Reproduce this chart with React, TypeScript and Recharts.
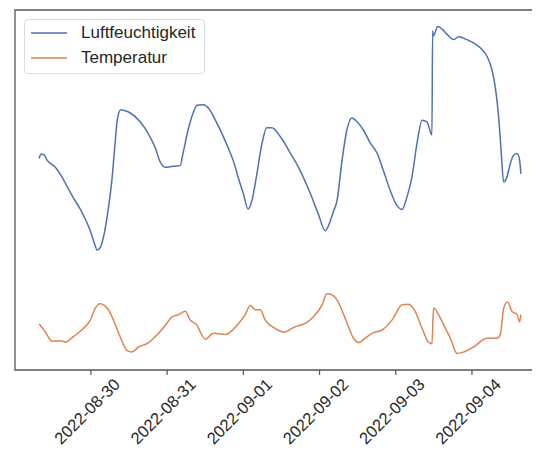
import React from "react";
import { LineChart, Line, XAxis, YAxis, Legend, ReferenceArea } from "recharts";

// hours since 2022-08-30 00:00
const humidityHours = [
  -16.3, -15.7, -14.7, -13.8, -11.2, -8.6, -7.6, -5.6, -3.4, -1.8, -0.2, 1.4, 1.9, 2.9, 3.9, 5.4,
  6.6, 7.7, 8.3, 9.4, 10.8, 12.4, 15.5, 18.0, 20.3, 21.8, 23.4, 25.9, 28.1, 29.1, 30.6, 32.2,
  33.4, 35.4, 37.0, 39.2, 41.7, 43.9, 45.4, 46.0, 48.0, 49.5, 50.7, 52.3, 53.9, 55.4, 57.0, 59.6,
  62.8, 65.9, 69.1, 71.6, 73.8, 75.4, 76.3, 77.5, 79.1, 80.6, 82.2, 83.8, 85.8, 88.0, 90.1, 92.1,
  94.3, 96.4, 98.0, 99.5, 101.1, 102.7, 104.3, 105.8, 107.4, 107.6, 107.9, 109.2, 110.6, 112.1,
  114.2, 115.8, 118.4, 120.5, 122.6, 124.7, 126.3, 127.3, 128.4, 129.1, 130.0, 131.0, 132.1,
  133.1, 134.2, 135.0, 135.4,
];
const humidityValues = [
  52.9, 53.7, 53.5, 52.6, 51.3, 49.0, 47.9, 45.8, 43.7, 41.9, 39.7, 36.9, 36.2, 36.6, 38.4, 43.4,
  48.9, 56.2, 59.9, 61.8, 61.6, 61.2, 59.6, 57.5, 54.8, 52.3, 51.3, 51.5, 51.6, 54.1, 58.1, 61.2,
  62.6, 62.7, 62.1, 59.9, 56.9, 53.9, 51.5, 50.2, 46.5, 43.7, 45.2, 50.2, 55.7, 58.5, 58.5, 56.9,
  53.9, 50.7, 46.5, 42.8, 39.7, 41.5, 43.1, 45.2, 52.6, 58.1, 60.3, 59.6, 58.1, 55.7, 53.9, 50.7,
  47.0, 44.3, 43.6, 45.8, 49.5, 55.7, 59.9, 59.6, 57.2, 76.2, 75.3, 77.0, 76.5, 75.6,
  74.6, 75.1, 74.6, 74.0, 73.1, 71.6, 69.1, 66.1, 60.5, 55.0, 48.6, 49.5, 52.0,
  53.5, 53.8, 52.6, 50.1,
];

const tempHours = [
  -16.3, -14.4, -12.3, -9.1, -8.1, -5.5, -2.3, -0.2, 1.4, 2.9, 5.5, 7.1, 9.2, 11.3, 12.9, 15.0,
  17.6, 20.8, 23.9, 25.5, 27.6, 29.7, 31.3, 33.4, 34.4, 36.0, 38.6, 42.3, 46.5, 48.6, 50.2, 51.7,
  53.3, 54.9, 58.0, 60.7, 64.3, 67.5, 70.1, 72.8, 74.3, 75.9, 77.5, 80.1, 82.7, 84.3, 86.4, 88.5,
  91.7, 94.8, 98.0, 100.0, 102.1, 104.3, 106.3, 107.4, 107.9, 109.5, 111.1, 113.2, 115.3, 117.4,
  120.5, 124.7, 127.9, 128.9, 130.0, 131.2, 132.6, 134.2, 135.0, 135.4,
];
const tempValues = [
  22.7, 21.3, 19.6, 19.6, 19.4, 20.4, 21.9, 23.4, 25.6, 26.4, 25.3, 23.4, 20.4, 17.9, 17.6, 18.5,
  19.1, 20.7, 22.8, 24.0, 24.4, 25.0, 23.4, 22.5, 21.3, 19.9, 21.0, 20.8, 22.8, 24.4, 26.1, 25.3,
  25.3, 23.4, 21.9, 21.2, 22.2, 22.8, 24.0, 26.2, 28.2, 28.0, 27.1, 23.7, 20.1, 19.3, 20.1, 21.0,
  21.6, 23.4, 26.2, 26.3, 25.0, 21.9, 19.4, 19.1, 25.6, 24.4, 22.5, 20.1, 17.3, 17.6,
  18.5, 20.1, 20.1, 20.7, 25.6, 26.7, 25.0, 24.4, 23.1, 24.4,
];

const tickHours = [0, 24, 48, 72, 96, 120];
const tickLabels = ["2022-08-30", "2022-08-31", "2022-09-01", "2022-09-02", "2022-09-03", "2022-09-04"];

const X_DOMAIN: [number, number] = [-23.9, 143.0];
const Y_DOMAIN: [number, number] = [14.3, 80.0];
const FONT = "'Liberation Sans', Arial, sans-serif";
const BLUE = "#4c72b0";
const ORANGE = "#dd8452";

const humidityData = humidityHours.map((h, i) => ({ h, v: humidityValues[i] }));
const tempData = tempHours.map((h, i) => ({ h, v: tempValues[i] }));

function DateTick(props: any) {
  const { x, y, payload } = props;
  const i = tickHours.indexOf(payload.value);
  const ax = x + 30;
  const ay = y + 8.5;
  return (
    <text
      x={ax}
      y={ay}
      transform={`rotate(-45, ${ax}, ${ay})`}
      textAnchor="end"
      fontFamily={FONT}
      fontSize={16.5}
      fill="#262626"
    >
      {tickLabels[i]}
    </text>
  );
}

const legendItems = [
  { name: "Luftfeuchtigkeit", color: BLUE },
  { name: "Temperatur", color: ORANGE },
];

function LegendBox() {
  return (
    <div
      style={{
        border: "1px solid #dcdcdc",
        borderRadius: 4,
        background: "rgba(255,255,255,0.85)",
        width: 181,
        height: 55,
        boxSizing: "border-box",
        paddingLeft: 6,
        fontFamily: FONT,
        fontSize: 17,
        color: "#262626",
      }}
    >
      {legendItems.map((it) => (
        <div key={it.name} style={{ display: "flex", alignItems: "center", height: 25.5 }}>
          <svg width={36} height={4} style={{ marginRight: 14 }}>
            <line x1={0} y1={2} x2={36} y2={2} stroke={it.color} strokeWidth={1.5} />
          </svg>
          <span>{it.name}</span>
        </div>
      ))}
    </div>
  );
}

export default function App() {
  return (
    <div style={{ marginLeft: -8, marginTop: -8, width: 540, height: 452, overflow: "hidden", background: "#fff" }}>
      <LineChart width={560} height={452} margin={{ top: 10, right: 15, bottom: 22, left: 15 }}>
        <XAxis
          dataKey="h"
          type="number"
          domain={X_DOMAIN}
          ticks={tickHours}
          allowDataOverflow
          axisLine={false}
          tickSize={5}
          tickLine={{ stroke: "#555", strokeWidth: 1.2 }}
          tick={<DateTick />}
          height={60}
        />
        <YAxis type="number" domain={Y_DOMAIN} hide allowDataOverflow />
        <ReferenceArea
          x1={X_DOMAIN[0]}
          x2={X_DOMAIN[1]}
          y1={Y_DOMAIN[0]}
          y2={Y_DOMAIN[1]}
          fill="none"
          stroke="#555"
          strokeWidth={1.3}
          ifOverflow="visible"
        />
        <Legend
          layout="vertical"
          align="center"
          verticalAlign="middle"
          wrapperStyle={{ top: 19, left: 24, width: "auto" }}
          content={<LegendBox />}
        />
        <Line
          data={humidityData}
          dataKey="v"
          name="Luftfeuchtigkeit"
          type="monotone"
          stroke={BLUE}
          strokeWidth={1.5}
          dot={false}
          isAnimationActive={false}
        />
        <Line
          data={tempData}
          dataKey="v"
          name="Temperatur"
          type="monotone"
          stroke={ORANGE}
          strokeWidth={1.5}
          dot={false}
          isAnimationActive={false}
        />
      </LineChart>
    </div>
  );
}
